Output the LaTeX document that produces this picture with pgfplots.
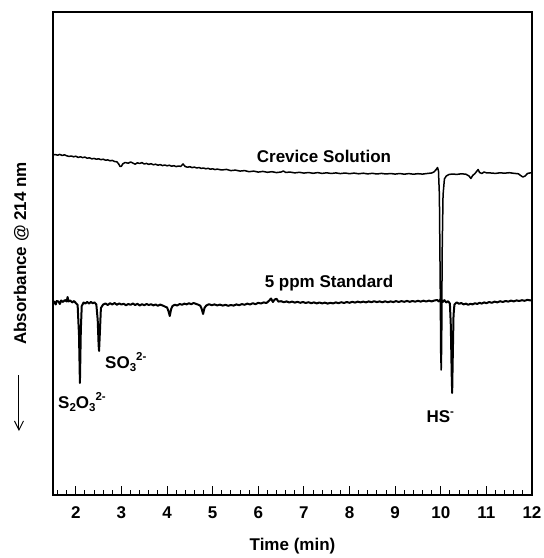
\documentclass[border=0pt]{standalone}
\usepackage{pgfplots}
\pgfplotsset{compat=1.18}
\usetikzlibrary{arrows.meta}
\usepackage{fontspec}
\setmainfont{Liberation Sans}
\newcommand\lbl{\fontsize{17}{20}\selectfont\bfseries}
\newcommand\sbs[1]{\raisebox{-0.35ex}{\fontsize{11.5}{12}\selectfont\bfseries #1}}
\newcommand\sps[1]{\raisebox{0.85ex}{\fontsize{11.5}{12}\selectfont\bfseries #1}}
\pgfplotstableread{
x y
1.50 340
1.55 340.5
1.60 339.8
1.65 340.6
1.70 339.5
1.75 340.2
1.80 339.2
1.85 338.6
1.90 339.0
1.95 338.2
2.00 338.8
2.05 337.6
2.10 338.2
2.15 337.4
2.20 337.9
2.25 336.8
2.30 337.2
2.35 336.1
2.40 336.6
2.45 335.8
2.50 336.2
2.55 335.3
2.60 335.8
2.65 334.8
2.70 335.1
2.75 334.2
2.80 334.6
2.85 333.5
2.90 333.2
2.94 331.0
2.97 328.5
3.00 328.8
3.03 331.2
3.08 332.5
3.15 331.8
3.20 333.0
3.25 332.0
3.30 330.8
3.35 332.2
3.40 331.5
3.45 332.4
3.50 331.0
3.55 331.6
3.60 330.6
3.65 331.3
3.70 330.2
3.75 330.8
3.80 329.8
3.85 330.4
3.90 329.4
3.95 330.0
4.00 329.2
4.05 329.8
4.10 328.8
4.15 329.3
4.20 328.4
4.25 329.0
4.30 328.6
4.35 331.0
4.40 328.4
4.45 327.8
4.50 328.3
4.55 327.4
4.60 327.9
4.65 327.0
4.70 327.5
4.75 326.6
4.80 327.0
4.85 326.2
4.90 326.7
4.95 325.8
5.00 326.2
5.05 325.4
5.10 325.9
5.20 325.0
5.30 325.6
5.40 324.4
5.50 324.9
5.60 323.9
5.70 324.4
5.80 323.3
5.90 323.9
6.00 322.9
6.10 323.6
6.20 322.7
6.30 323.3
6.40 322.4
6.50 323.0
6.55 324.0
6.60 322.6
6.70 322.9
6.80 322.1
6.90 322.7
7.00 321.9
7.10 322.5
7.20 321.7
7.30 322.4
7.40 321.6
7.50 322.2
7.60 321.5
7.70 322.1
7.80 321.4
7.90 322.0
8.00 321.3
8.10 321.9
8.20 321.2
8.30 321.8
8.40 321.1
8.50 321.7
8.60 321.0
8.70 321.6
8.80 321.0
8.90 321.5
9.00 320.9
9.10 321.5
9.20 320.8
9.30 321.4
9.40 320.8
9.50 321.3
9.60 320.9
9.70 321.5
9.80 322.0
9.85 323.0
9.90 325.5
9.93 327.5
9.95 324.0
9.97 300
9.99 200
10.00 140
10.01 125
10.02 150
10.03 240
10.05 300
10.08 316
10.12 319
10.18 320.5
10.25 321.0
10.35 320.6
10.45 321.2
10.55 320.8
10.62 319.0
10.66 316.5
10.70 319.5
10.75 321.5
10.82 325.5
10.85 322.5
10.90 321.5
10.95 323.0
11.00 322.2
11.10 322.0
11.20 321.6
11.30 322.2
11.40 321.8
11.50 322.3
11.60 321.7
11.70 321.2
11.75 319.5
11.80 318.0
11.85 319.0
11.90 321.5
11.95 322.0
12.00 322.2
}\crevice
\pgfplotstableread{
x y
1.50 194
1.53 193
1.56 190.5
1.58 194
1.62 193.5
1.65 191
1.68 194.5
1.72 193
1.76 195
1.80 193.5
1.82 198
1.84 193.5
1.88 194.5
1.92 192.5
1.96 194
2.00 192
2.04 190
2.07 160
2.09 112
2.11 165
2.13 189
2.17 192.5
2.21 191.5
2.25 193
2.29 191.5
2.33 193
2.37 191.8
2.41 192.6
2.45 190.5
2.48 175
2.50 150
2.51 144
2.53 165
2.55 187
2.60 190.5
2.65 191.5
2.70 190
2.75 191.8
2.80 190.5
2.85 192
2.90 190.2
2.95 191.6
3.00 190.5
3.05 191.2
3.10 189.8
3.15 191
3.20 190.2
3.25 191.5
3.30 190
3.35 191.2
3.40 189.5
3.45 190.8
3.50 189.8
3.55 191
3.60 190
3.65 190.8
3.70 189.6
3.75 190.5
3.80 189.2
3.85 190.4
3.90 189.6
3.95 188.5
4.00 187.5
4.03 184
4.06 179
4.09 186
4.12 189
4.17 190.3
4.22 189.5
4.28 191
4.33 190.2
4.38 191.4
4.43 190.6
4.48 191.8
4.53 190.8
4.58 192
4.63 191.2
4.68 190.4
4.73 189.2
4.76 186
4.79 181
4.82 187
4.86 189.5
4.92 190.8
4.98 189.8
5.04 190.6
5.10 189.6
5.16 190.4
5.22 189.4
5.28 190.2
5.34 189.2
5.40 190.0
5.46 189.4
5.52 190.6
5.58 189.8
5.64 190.9
5.70 190.2
5.76 191.4
5.82 190.5
5.88 191.8
5.94 190.8
6.00 192.2
6.06 191.5
6.12 192.6
6.18 192.0
6.24 194.5
6.28 196.5
6.32 193.0
6.36 195.5
6.40 196.2
6.44 193.4
6.50 193.8
6.56 192.8
6.62 193.6
6.68 192.5
6.74 193.4
6.80 192.4
6.86 193.2
6.92 192.2
6.98 193.0
7.04 192.0
7.10 192.8
7.16 191.8
7.22 192.6
7.28 191.6
7.34 192.5
7.40 191.6
7.46 192.4
7.52 191.4
7.58 192.2
7.64 191.6
7.70 192.6
7.76 191.8
7.82 192.8
7.88 192.0
7.94 193.0
8.00 192.2
8.06 193.2
8.12 192.4
8.18 193.4
8.24 192.6
8.30 193.4
8.36 192.6
8.42 193.6
8.48 192.8
8.54 193.8
8.60 192.9
8.66 193.6
8.72 192.7
8.78 193.7
8.84 192.8
8.90 193.6
8.96 192.9
9.02 193.9
9.08 193.0
9.14 193.9
9.20 193.2
9.26 194.1
9.32 193.2
9.38 194.0
9.44 193.3
9.50 194.2
9.56 193.4
9.62 194.3
9.68 193.5
9.74 194.4
9.80 193.6
9.86 194.5
9.92 195.0
9.96 193.5
10.00 196.0
10.04 193.0
10.08 194.8
10.12 192.5
10.16 193.8
10.20 191.5
10.22 170
10.24 120
10.25 102
10.26 130
10.28 180
10.30 190.5
10.35 192.6
10.40 191.2
10.45 192.0
10.50 190.6
10.55 191.4
10.60 190.2
10.65 191.2
10.70 190.6
10.75 191.8
10.80 191.0
10.85 192.2
10.90 191.4
10.95 192.6
11.00 191.8
11.06 193.0
11.12 192.2
11.18 193.4
11.24 192.6
11.30 193.8
11.36 193.0
11.42 194.0
11.48 193.4
11.54 194.4
11.60 193.6
11.66 194.6
11.72 194.0
11.78 194.8
11.84 194.2
11.90 195.2
11.96 194.6
12.00 195.0
}\standard
\begin{document}
\begin{tikzpicture}
\useasboundingbox (-53pt,-63pt) rectangle (491pt,495pt);
\begin{axis}[
 scale only axis, width=479pt, height=483pt,
 xmin=1.5, xmax=12, ymin=0, ymax=483,
 xtick={2,3,...,12},
 minor xtick={1.6,1.8,2.2,2.4,2.6,2.8,3.2,3.4,3.6,3.8,4.2,4.4,4.6,4.8,5.2,5.4,5.6,5.8,6.2,6.4,6.6,6.8,7.2,7.4,7.6,7.8,8.2,8.4,8.6,8.8,9.2,9.4,9.6,9.8,10.2,10.4,10.6,10.8,11.2,11.4,11.6,11.8},
 ytick=\empty, minor ytick=\empty,
 xtick pos=bottom, tick align=inside,
 major tick length=9pt, minor tick length=5pt,
 axis line style={line width=1.2pt},
 major tick style={line width=1pt, black},
 minor tick style={line width=0.9pt, black},
 /pgf/number format/assume math mode=true,
 tick label style={font=\lbl},
 xticklabel style={yshift=-8pt},
 xlabel={Time (min)}, ylabel={Absorbance @ 214 nm},
 label style={font=\lbl},
 xlabel style={at={(axis description cs:0.5,0)}, anchor=center, yshift=-51pt},
 ylabel style={at={(axis description cs:-0.066,0.5)}, anchor=center},
 clip=false,
]
\addplot[black, line width=1.5pt, line join=round] table[x=x,y=y] {\crevice};
\addplot[black, line width=2pt, line join=round] table[x=x,y=y] {\standard};
\node[font=\lbl] at (axis cs:7.44,339) {Crevice Solution};
\node[font=\lbl] at (axis cs:7.55,212) {5 ppm Standard};
\node[font=\lbl, anchor=west, inner sep=0pt] at (axis cs:1.61,93) {S\sbs{2}O\sbs{3}\sps{2-}};
\node[font=\lbl, anchor=west, inner sep=0pt] at (axis cs:2.64,133) {SO\sbs{3}\sps{2-}};
\node[font=\lbl] at (axis cs:9.99,78) {HS\sps{-}};
\end{axis}
\draw[-{Straight Barb[length=9pt,width=9pt]}, line width=1pt] (-34pt,120pt) -- (-34pt,64pt);
\end{tikzpicture}
\end{document}
